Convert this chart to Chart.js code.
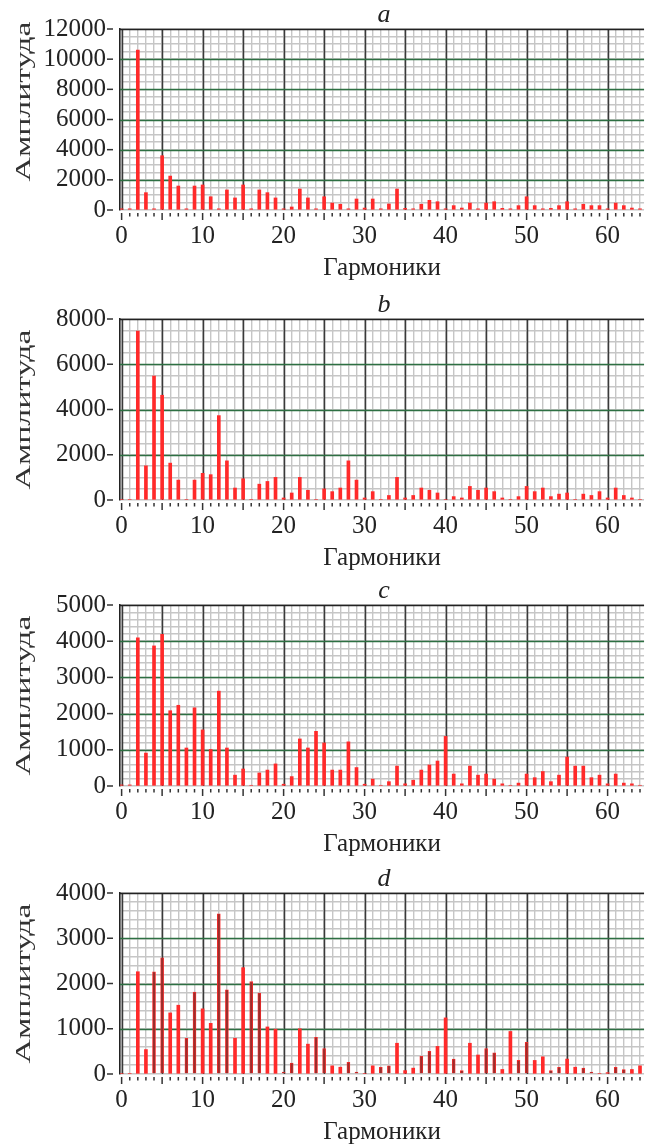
<!DOCTYPE html>
<html>
<head>
<meta charset="utf-8">
<script src="https://cdn.jsdelivr.net/npm/chart.js@4.4.1/dist/chart.umd.min.js"></script>
<style>
html, body { margin: 0; padding: 0; background: #fff; overflow: hidden; }
#wrap { position: relative; width: 651px; height: 1144px; }
#wrap canvas { position: absolute; left: 0; }
</style>
</head>
<body>
<div id="wrap">
  <canvas id="panelA" width="651" height="287" style="top:0px"></canvas>
  <canvas id="panelB" width="651" height="287" style="top:290px"></canvas>
  <canvas id="panelC" width="651" height="287" style="top:576px"></canvas>
  <canvas id="panelD" width="651" height="287" style="top:864px"></canvas>
</div>
<script>
// harmonic numbers (x axis)
const harmonics = [0, 1, 2, 3, 4, 5, 6, 7, 8, 9, 10, 11, 12, 13, 14, 15, 16, 17, 18, 19,
  20, 21, 22, 23, 24, 25, 26, 27, 28, 29, 30, 31, 32, 33, 34, 35, 36, 37, 38, 39,
  40, 41, 42, 43, 44, 45, 46, 47, 48, 49, 50, 51, 52, 53, 54, 55, 56, 57, 58, 59,
  60, 61, 62, 63, 64];

// amplitudes
const ampA = [80, 80, 10600, 1150, 80, 3600, 2250, 1590, 80, 1590,
  1660, 880, 80, 1330, 800, 1660, 80, 1330, 1150, 800,
  80, 200, 1390, 800, 80, 880, 460, 380, 80, 730,
  130, 730, 80, 400, 1390, 110, 80, 380, 640, 550,
  80, 290, 130, 460, 80, 460, 550, 110, 80, 290,
  880, 290, 80, 110, 290, 550, 80, 380, 290, 290,
  80, 460, 290, 130, 80];
const ampB = [30, 30, 7470, 1510, 5480, 4630, 1630, 880, 30, 880,
  1180, 1120, 3730, 1730, 530, 940, 30, 700, 820, 1000,
  90, 310, 1000, 430, 30, 490, 370, 530, 1730, 880,
  90, 370, 30, 200, 1000, 90, 200, 530, 430, 310,
  30, 150, 90, 600, 430, 530, 370, 90, 30, 150,
  600, 370, 530, 150, 260, 310, 30, 260, 200, 370,
  90, 530, 200, 90, 30];
const ampC = [30, 30, 4090, 910, 3870, 4190, 2080, 2230, 1050, 2160,
  1550, 1010, 2620, 1050, 300, 470, 20, 360, 440, 610,
  50, 260, 1300, 1050, 1510, 1190, 440, 440, 1220, 510,
  50, 190, 20, 120, 550, 60, 160, 440, 580, 690,
  1370, 330, 60, 550, 300, 330, 190, 60, 20, 80,
  330, 230, 400, 120, 300, 800, 550, 550, 230, 300,
  60, 330, 80, 60, 20];
const ampD = [15, 15, 2260, 540, 2260, 2570, 1350, 1520, 790, 1810,
  1440, 1120, 3540, 1860, 790, 2350, 2040, 1790, 1040, 990,
  45, 240, 1000, 660, 810, 560, 180, 150, 260, 45,
  15, 180, 150, 180, 680, 75, 130, 390, 500, 610,
  1240, 330, 75, 680, 420, 560, 470, 100, 940, 300,
  700, 300, 380, 75, 150, 330, 150, 130, 45, 15,
  30, 150, 100, 100, 180];
// harmonics drawn in the darker red in panel d
const darkD = [4, 5, 8, 9, 12, 13, 16, 17, 20, 21, 24, 25, 28, 29, 32, 33,
  37, 38, 41, 42, 45, 46, 49, 50, 53, 54, 57, 58, 61, 62];

const panelLetters = ['a', 'b', 'c', 'd'];
const yMaxes = [12000, 8000, 5000, 4000];
const yMinorSteps = [500, 500, 200, 200];
const yMajorSteps = [2000, 2000, 1000, 1000];
const xTitle = 'Гармоники';
const yTitle = 'Амплитуда';

Chart.defaults.font.family = '"Liberation Serif", "Times New Roman", serif';
Chart.defaults.color = '#222';

const RED = '#ff2a2a';
const DARK_RED = '#9a2e2c';
const GRID_GRAY = '#c6c6c6';
const GRID_GREEN = '#2d6f42';
const GRID_BLACK = '#3a3a3a';

// major grid lines over the gray mesh, tick marks, panel letter, y title
const panelDecor = {
    id: 'panelDecor',
    beforeDatasetsDraw(chart, args, opts) {
        const { ctx, chartArea } = chart;
        const x = chart.scales.x;
        const y = chart.scales.y;
        ctx.save();
        ctx.lineWidth = 1.5;
        ctx.strokeStyle = GRID_BLACK;
        x.ticks.forEach(t => {
            if (t.value % 5 !== 0) return;
            const px = Math.round(x.getPixelForValue(t.value)) + 0.5;
            ctx.beginPath();
            ctx.moveTo(px, chartArea.top);
            ctx.lineTo(px, chartArea.bottom);
            ctx.stroke();
        });
        y.ticks.forEach(t => {
            if (t.value === 0 || t.value % opts.major !== 0) return;
            const py = Math.round(y.getPixelForValue(t.value)) + 0.5;
            ctx.strokeStyle = t.value === y.max ? '#222' : GRID_GREEN;
            ctx.beginPath();
            ctx.moveTo(chartArea.left, py);
            ctx.lineTo(chartArea.right, py);
            ctx.stroke();
        });
        ctx.restore();
    },
    afterDraw(chart, args, opts) {
        const { ctx, chartArea } = chart;
        const x = chart.scales.x;
        const y = chart.scales.y;
        ctx.save();
        ctx.strokeStyle = '#333';
        ctx.lineWidth = 1.5;
        x.ticks.forEach(t => {
            const px = x.getPixelForValue(t.value);
            const len = t.value % 5 === 0 ? 7 : 3.5;
            ctx.beginPath();
            ctx.moveTo(px, chartArea.bottom + 3);
            ctx.lineTo(px, chartArea.bottom + 3 + len);
            ctx.stroke();
        });
        y.ticks.forEach(t => {
            if (t.value % opts.major !== 0) return;
            const py = y.getPixelForValue(t.value);
            ctx.beginPath();
            ctx.moveTo(chartArea.left - 13, py);
            ctx.lineTo(chartArea.left - 7, py);
            ctx.stroke();
        });

        ctx.fillStyle = '#222';
        ctx.font = 'italic 26px "Liberation Serif"';
        ctx.textAlign = 'center';
        ctx.textBaseline = 'alphabetic';
        ctx.fillText(opts.letter, (chartArea.left + chartArea.right) / 2 + 2, chartArea.top - 7);

        ctx.fillStyle = '#333';
        ctx.font = '22px "Liberation Serif"';
        const w = ctx.measureText(yTitle).width;
        ctx.translate(24, (chartArea.top + chartArea.bottom) / 2 + opts.titleShift);
        ctx.rotate(-Math.PI / 2);
        ctx.scale(160 / w, 1);
        ctx.textBaseline = 'middle';
        ctx.fillText(yTitle, 0, 0);
        ctx.restore();
    }
};

function buildPanel(canvasId, idx, values, darkList) {
    const max = yMaxes[idx];
    const minor = yMinorSteps[idx];
    const major = yMajorSteps[idx];
    const points = harmonics.map((h, i) => ({ x: h, y: values[i] }));
    const fills = harmonics.map(h => darkList.includes(h) ? DARK_RED : RED);
    const edges = harmonics.map(h => darkList.includes(h) ? 0.8 : 0);

    const ctx = document.getElementById(canvasId).getContext('2d');
    return new Chart(ctx, {
        type: 'bar',
        data: {
            datasets: [{
                data: points,
                backgroundColor: fills,
                borderColor: RED,
                borderWidth: edges,
                borderSkipped: 'start',
                barThickness: 3,
            }]
        },
        options: {
            responsive: false,
            animation: false,
            devicePixelRatio: 1,
            layout: { padding: { top: 28, left: 0, right: 0, bottom: 0 } },
            plugins: {
                legend: { display: false },
                tooltip: { enabled: false },
                panelDecor: { letter: panelLetters[idx], major: major, titleShift: idx === 0 ? -18 : 0 },
            },
            scales: {
                x: {
                    type: 'linear',
                    min: -0.2,
                    max: 64.5,
                    offset: false,
                    ticks: {
                        stepSize: 1,
                        includeBounds: false,
                        autoSkip: false,
                        maxRotation: 0,
                        padding: 11,
                        font: { size: 25, lineHeight: 1.2 },
                        callback: v => (v % 10 === 0 ? v : ''),
                    },
                    grid: {
                        offset: false,
                        drawTicks: false,
                        color: GRID_GRAY,
                        lineWidth: 1.4,
                    },
                    border: { display: false },
                    title: {
                        display: true,
                        text: xTitle,
                        font: { size: 25, lineHeight: 1.2 },
                        padding: { top: 0, bottom: 4 },
                    },
                    afterFit: s => { s.height = 77; },
                },
                y: {
                    min: 0,
                    max: max,
                    ticks: {
                        stepSize: minor,
                        autoSkip: false,
                        padding: 14,
                        font: { size: 25 },
                        callback: v => (v % major === 0 ? v : ''),
                    },
                    grid: {
                        drawTicks: false,
                        color: GRID_GRAY,
                        lineWidth: 1.4,
                    },
                    border: { display: true, color: '#222', width: 1.6 },
                    afterFit: s => { s.width = 120; },
                }
            }
        },
        plugins: [panelDecor]
    });
}

buildPanel('panelA', 0, ampA, []);
buildPanel('panelB', 1, ampB, []);
buildPanel('panelC', 2, ampC, []);
buildPanel('panelD', 3, ampD, darkD);
</script>
</body>
</html>
